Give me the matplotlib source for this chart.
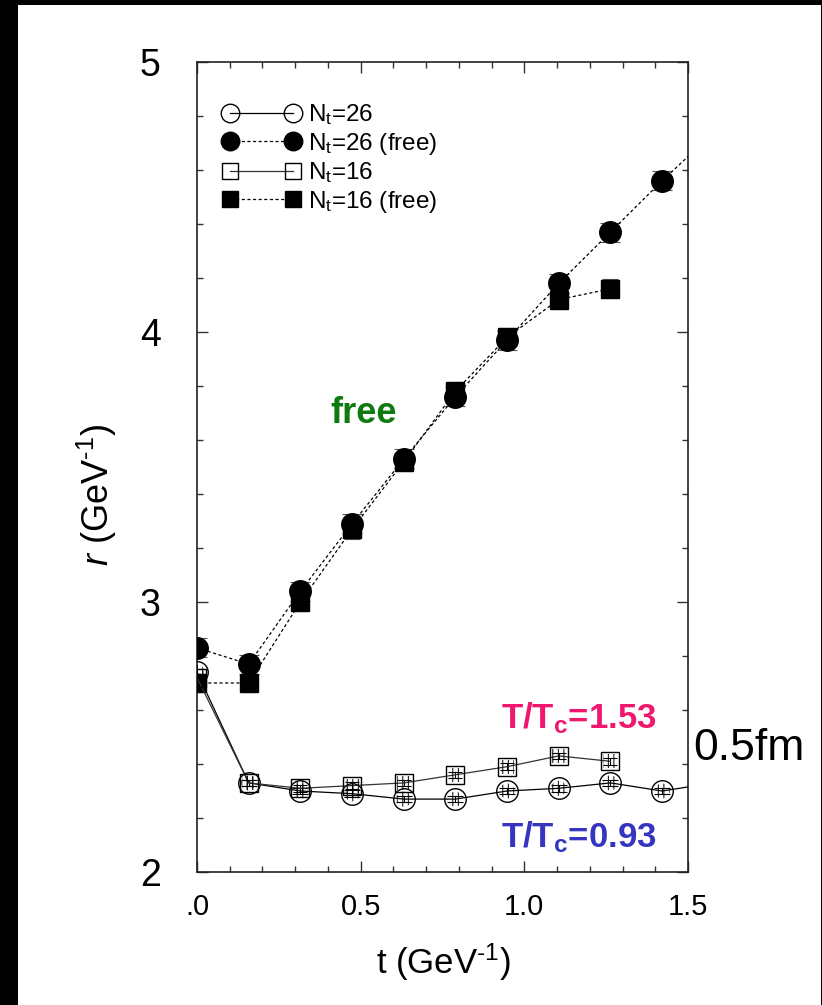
import matplotlib
matplotlib.use("Agg")
import matplotlib.pyplot as plt
from matplotlib.patches import Rectangle
from matplotlib.ticker import MultipleLocator, FixedLocator

plt.rcParams['font.family'] = ['Liberation Sans', 'DejaVu Sans']
plt.rcParams['mathtext.fontset'] = 'custom'
plt.rcParams['mathtext.rm'] = 'Liberation Sans'
plt.rcParams['mathtext.it'] = 'Liberation Sans:italic'
plt.rcParams['mathtext.bf'] = 'Liberation Sans:bold'
plt.rcParams['hatch.linewidth'] = 0.7

# Euclidean time slices (GeV^-1)
t_26 = [0.0, 0.158, 0.316, 0.474, 0.632, 0.789, 0.947, 1.105, 1.263, 1.421, 1.579]
t_16 = [0.0, 0.158, 0.316, 0.474, 0.632, 0.789, 0.947, 1.105, 1.263]

# rms radius r (GeV^-1)
r_26 = [2.74, 2.33, 2.30, 2.29, 2.27, 2.27, 2.30, 2.31, 2.33, 2.30, 2.33]
r_16 = [2.72, 2.33, 2.31, 2.32, 2.33, 2.36, 2.39, 2.43, 2.41]
r_26_free = [2.83, 2.77, 3.04, 3.29, 3.53, 3.76, 3.97, 4.18, 4.37, 4.56, 4.74]
r_16_free = [2.70, 2.70, 3.00, 3.27, 3.52, 3.78, 3.98, 4.12, 4.16]

err_open = 0.012
err_free = 0.035

labels = [r'N$_\mathrm{t}$=26', r'N$_\mathrm{t}$=26 (free)',
          r'N$_\mathrm{t}$=16', r'N$_\mathrm{t}$=16 (free)']

W, H = 822, 1005
fig = plt.figure(figsize=(W / 100, H / 100), dpi=100)
fig.patch.set_facecolor('black')
fig.patches.append(Rectangle((18 / W, 0), (821 - 18) / W, (H - 5) / H,
                             transform=fig.transFigure, facecolor='white',
                             edgecolor='none', zorder=-5))

ax = fig.add_axes([197 / W, 1 - 872 / H, (688 - 197) / W, (872 - 62) / H])
ax.set_zorder(2)
ax.set_facecolor('white')

ms_c, ms_s = 15.5, 13.5
dash = (0, (2.5, 2))

# error bars
ax.errorbar(t_26, r_26_free, yerr=err_free, fmt='none', ecolor='#555',
            elinewidth=0.8, capsize=7, capthick=0.8, zorder=2)
ax.errorbar(t_16, r_16_free, yerr=err_free, fmt='none', ecolor='#555',
            elinewidth=0.8, capsize=6, capthick=0.8, zorder=2)
ax.errorbar(t_26, r_26, yerr=err_open, fmt='none', ecolor='k',
            elinewidth=0.8, capsize=6, capthick=0.8, zorder=4)
ax.errorbar(t_16, r_16, yerr=err_open, fmt='none', ecolor='k',
            elinewidth=0.8, capsize=5, capthick=0.8, zorder=4)

# free-field correlators
ax.plot(t_26, r_26_free, marker='o', ls=dash, color='k', lw=0.9, ms=ms_c,
        mfc='k', mec='k', label=labels[1], zorder=3)
ax.plot(t_16, r_16_free, marker='s', ls=dash, color='k', lw=0.9, ms=ms_s,
        mfc='k', mec='k', label=labels[3], zorder=3)

# interacting correlators
ax.plot(t_26, r_26, marker='o', ls='-', color='k', lw=0.9, ms=ms_c,
        mfc='none', mec='k', mew=1.0, label=labels[0], zorder=4)
ax.plot(t_16, r_16, marker='s', ls='-', color='#333', lw=0.9, ms=ms_s,
        mfc='none', mec='k', mew=1.0, label=labels[2], zorder=4)
ax.scatter(t_26, r_26, s=(ms_c * 0.7) ** 2, marker='o', facecolor='none',
           edgecolor='k', hatch='|||', linewidth=0, zorder=5)
ax.scatter(t_16, r_16, s=(ms_s * 0.75) ** 2, marker='s', facecolor='none',
           edgecolor='k', hatch='|||', linewidth=0, zorder=5)

ax.set_xlim(0, 1.5)
ax.set_ylim(2, 5)
ax.xaxis.set_major_locator(FixedLocator([0, 0.5, 1.0, 1.5]))
ax.set_xticklabels(['.0', '0.5', '1.0', '1.5'])
ax.xaxis.set_minor_locator(MultipleLocator(0.1))
ax.yaxis.set_major_locator(MultipleLocator(1))
ax.yaxis.set_minor_locator(MultipleLocator(0.2))
ax.tick_params(which='both', direction='in', top=True, right=True,
               color='#333', width=1.0)
ax.tick_params(which='major', length=8)
ax.tick_params(which='minor', length=4.5)
ax.tick_params(axis='x', which='major', labelsize=21, pad=15)
ax.tick_params(axis='y', which='major', labelsize=27, pad=26)
for s in ax.spines.values():
    s.set_color('#222')
    s.set_linewidth(1.2)

handles, labs = ax.get_legend_handles_labels()
order = [labs.index(l) for l in labels]
ax.legend([handles[i] for i in order], [labs[i] for i in order],
          loc='upper left', bbox_to_anchor=(0.052, 0.950), frameon=False,
          numpoints=2, handlelength=3.19, handletextpad=0.32, labelspacing=0.14,
          borderpad=0, borderaxespad=0, markerscale=0.86, fontsize=17.5)

ax.text(0.508, 3.70, 'free', color='#0f7b0f', fontsize=26, fontweight='bold',
        ha='center', va='center')
ax.text(1.405, 2.57, r'$\mathbf{T/T_c}$=1.53', color='#f0186e', fontsize=25,
        fontweight='bold', ha='right', va='center')
ax.text(1.405, 2.13, r'$\mathbf{T/T_c}$=0.93', color='#3535c0', fontsize=25,
        fontweight='bold', ha='right', va='center')

fig.text(749 / W, 1 - 748 / H, '0.5fm', fontsize=32, ha='center', va='center')
fig.text(443 / W, 1 - 962 / H, 't (GeV$^{\\mathrm{\u20101}}$)', fontsize=25,
         ha='center', va='center')
fig.text(97 / W, 1 - 495 / H, '$r$ (GeV$^{\\mathrm{\u20101}}$)', fontsize=26,
         ha='center', va='center', rotation=90)

fig.savefig('out.png', dpi=100, facecolor=fig.get_facecolor())
